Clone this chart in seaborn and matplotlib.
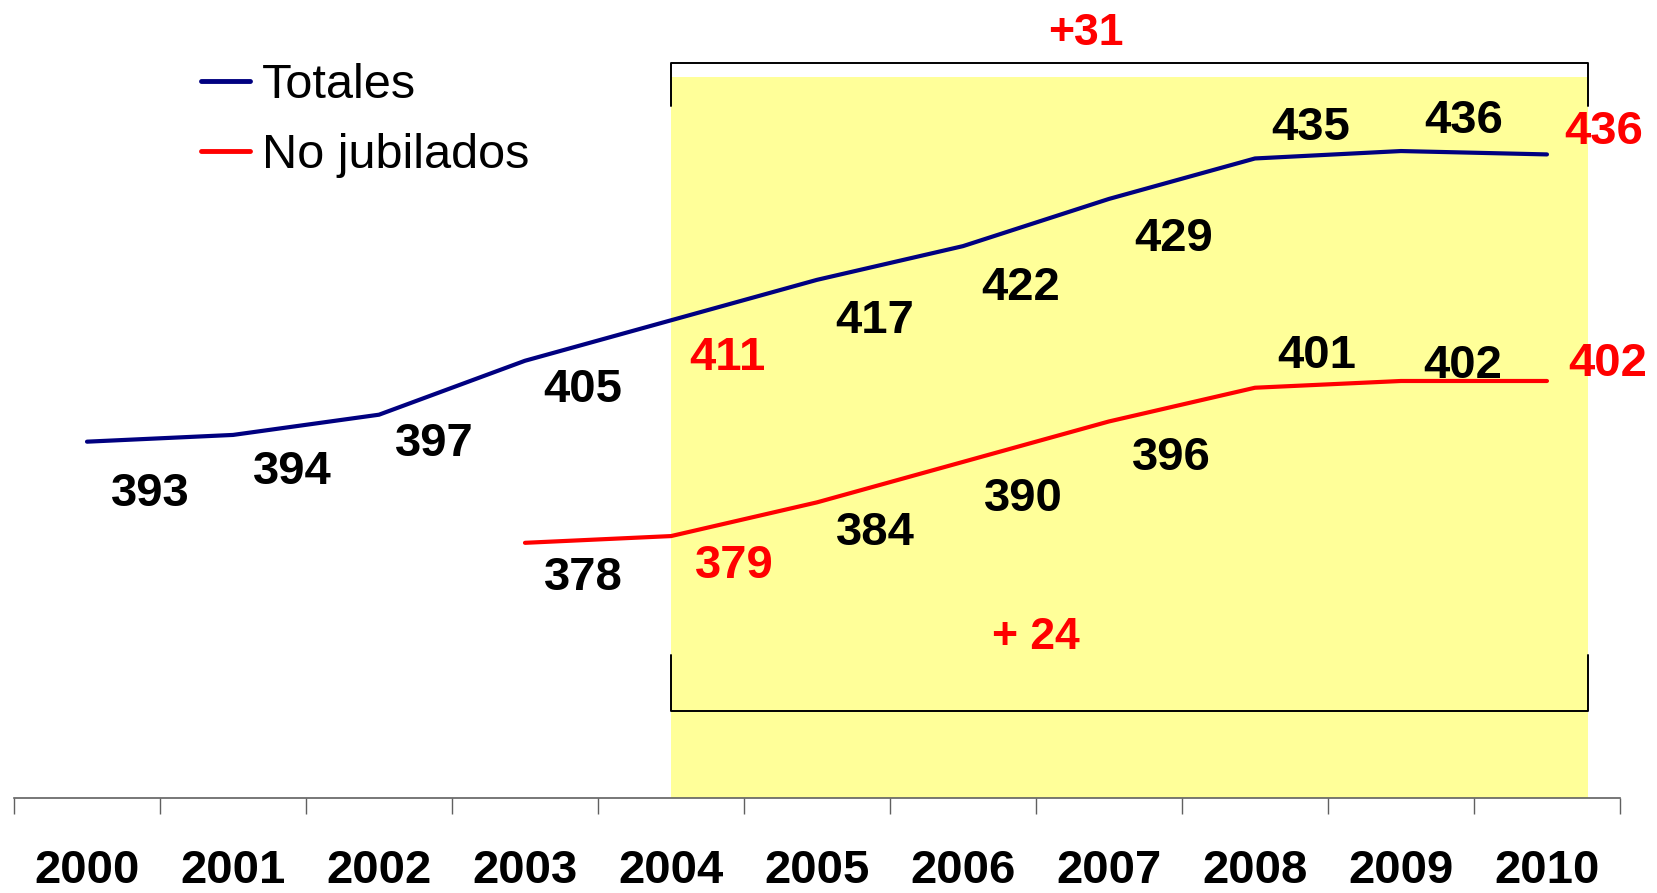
import matplotlib
matplotlib.use('Agg')
import matplotlib.pyplot as plt
import matplotlib.lines as mlines
import seaborn as sns
import pandas as pd

# == datos ==
anios = ['2000', '2001', '2002', '2003', '2004', '2005', '2006', '2007', '2008', '2009', '2010']
totales = [393, 394, 397, 405, 411, 417, 422, 429, 435, 436.1, 435.6]
no_jubilados = [378, 379, 384, 390, 396, 401, 402, 402]  # desde 2003
inicio_nj = 3
variacion_tot = '+31'
variacion_nj = '+ 24'

# desplazamiento de cada etiqueta (px a la derecha, px hacia abajo)
off_tot = [(63, 52), (59, 37), (55, 29), (58, 29), (56, 38), (58, 41),
           (58, 42), (65, 40), (56, -30), (63, -30), (57, -22)]
off_nj = [(58, 35), (63, 30), (58, 31), (60, 37), (62, 37), (62, -32), (62, -15), (61, -17)]
rojos_tot = [4, 10]
rojos_nj = [4, 10]

sns.set_theme(style='white')
plt.rcParams['font.family'] = ['Liberation Sans', 'DejaVu Sans']
plt.rcParams['text.color'] = 'black'
plt.rcParams['xtick.color'] = 'black'
plt.rcParams['xtick.labelcolor'] = 'black'

fig = plt.figure(figsize=(16.57, 8.93), dpi=100)
ax = fig.add_axes([0.00845, 0.1064, 0.9692, 0.8936])

df_tot = pd.DataFrame({'x': range(len(anios)), 'v': totales})
df_nj = pd.DataFrame({'x': range(inicio_nj, inicio_nj + len(no_jubilados)), 'v': no_jubilados})

y0, y1 = 340.16, 458.5
ax.set_xlim(-0.5, len(anios) - 0.5)
ax.set_ylim(y0, y1)

# zona amarilla 2004-2010
x_ini, x_fin = 4, 10.28
ax.fill_between([x_ini, x_fin], y0, 447.1, color='#FFFF99', zorder=0, lw=0)

sns.lineplot(data=df_tot, x='x', y='v', ax=ax, color='#000080', lw=3.0, zorder=3)
sns.lineplot(data=df_nj, x='x', y='v', ax=ax, color='#FF0000', lw=3.0, zorder=3)

# corchetes
ax.plot([x_ini, x_ini, x_fin, x_fin], [442.8, 449.1, 449.1, 442.8], color='black', lw=1.4, clip_on=False)
ax.plot([x_ini, x_ini, x_fin, x_fin], [361.4, 353.1, 353.1, 361.4], color='black', lw=1.4)
ax.text(6.84, 453.6, variacion_tot, color='#FF0000', fontsize=32, fontweight='bold', ha='center', va='center')
ax.text(6.50, 364.0, variacion_nj, color='#FF0000', fontsize=32, fontweight='bold', ha='center', va='center')

# etiquetas de valores
for i, v in enumerate(totales):
    c = '#FF0000' if i in rojos_tot else 'black'
    dx, dy = off_tot[i]
    ax.annotate(f'{v:.0f}', (i, v), xytext=(dx * 0.72, -dy * 0.72), textcoords='offset points',
                ha='center', va='center', fontsize=34, fontweight='bold', color=c)
for k, v in enumerate(no_jubilados):
    i = inicio_nj + k
    c = '#FF0000' if i in rojos_nj else 'black'
    dx, dy = off_nj[k]
    ax.annotate(f'{v:.0f}', (i, v), xytext=(dx * 0.72, -dy * 0.72), textcoords='offset points',
                ha='center', va='center', fontsize=34, fontweight='bold', color=c)

# ejes
for s in ['top', 'right', 'left']:
    ax.spines[s].set_visible(False)
ax.spines['bottom'].set_color('#606060')
ax.spines['bottom'].set_linewidth(1.2)
ax.set_yticks([])
ax.set_xticks(range(len(anios)))
ax.set_xticklabels(anios, fontsize=34, fontweight='bold', color='black')
ax.set_xticks([i - 0.5 for i in range(len(anios) + 1)], minor=True)
ax.tick_params(axis='x', which='major', length=0, pad=37)
ax.tick_params(axis='x', which='minor', length=11.5, width=1, color='#606060', direction='out', bottom=True)
ax.set_xlabel('')
ax.set_ylabel('')

h_tot = mlines.Line2D([], [], color='#000080', lw=3.5, solid_capstyle='round', label='Totales')
h_nj = mlines.Line2D([], [], color='#FF0000', lw=3.5, solid_capstyle='round', label='No jubilados')
leg = ax.legend(handles=[h_tot, h_nj], loc='upper left', bbox_to_anchor=(0.1045, 0.945), frameon=False,
                fontsize=35, handlelength=1.0, handletextpad=0.25, labelspacing=0.5, borderaxespad=0)
for t in leg.get_texts():
    t.set_color('black')

fig.savefig('out.png', dpi=100)
